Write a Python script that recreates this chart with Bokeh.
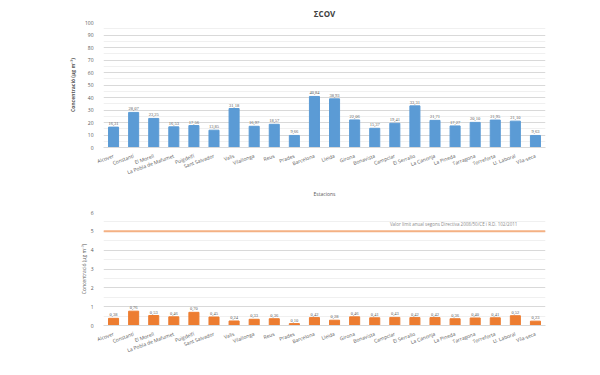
from bokeh.plotting import figure
from bokeh.models import ColumnDataSource, LabelSet, Span, Label, FixedTicker
from bokeh.layouts import column
from bokeh.embed import file_html
from bokeh.resources import INLINE

stations = ["Alcover", "Constantí", "El Morell", "La Pobla de Mafumet", "Puigdelfí",
            "Sant Salvador", "Valls", "Vilallonga", "Reus", "Prades", "Barcelona",
            "Lleida", "Girona", "Bonavista", "Campclar", "El Serrallo", "La Canonja",
            "La Pineda", "Tarragona", "Torreforta", "U. Laboral", "Vila-seca"]
cov_values = [16.31, 28.07, 23.25, 16.53, 17.56, 13.85, 31.18, 16.97, 18.57, 9.66, 40.84,
              38.93, 22.06, 15.37, 19.41, 33.31, 21.71, 17.27, 20.10, 21.95, 21.10, 9.63]
benz_values = [0.38, 0.76, 0.53, 0.46, 0.70, 0.45, 0.24, 0.33, 0.36, 0.10, 0.42,
               0.28, 0.46, 0.41, 0.43, 0.42, 0.42, 0.36, 0.40, 0.41, 0.52, 0.23]
limit_value = 5
limit_text = "Valor límit anual segons Directiva 2008/50/CE i R.D. 102/2011"
top_y_ticks = list(range(0, 101, 10))
bot_y_ticks = list(range(0, 7))

FONT = "Open Sans"
GREY = "#595959"
GRID = "#D9D9D9"


def fmt(v):
    return ("%.2f" % v).replace(".", ",")


def style(p):
    p.outline_line_color = None
    p.xgrid.grid_line_color = None
    p.ygrid.grid_line_color = GRID
    p.ygrid.grid_line_width = 1
    p.ygrid.minor_grid_line_color = "#F0F0F0"
    p.yaxis.axis_line_color = None
    p.yaxis.major_tick_line_color = None
    p.yaxis.minor_tick_line_color = None
    p.xaxis.axis_line_color = GRID
    p.xaxis.major_tick_line_color = None
    p.xaxis.minor_tick_line_color = None
    for ax in (p.xaxis[0], p.yaxis[0]):
        ax.major_label_text_font = FONT
        ax.major_label_text_font_size = "5px"
        ax.major_label_text_color = GREY
        ax.axis_label_text_font = FONT
        ax.axis_label_text_font_size = "5px"
        ax.axis_label_text_color = GREY
        ax.axis_label_text_font_style = "normal"
    p.xaxis.major_label_orientation = 0.35
    p.xaxis.major_label_standoff = 2
    p.yaxis.major_label_standoff = 4


# ---- Top chart: ΣCOV ----
src1 = ColumnDataSource(dict(x=stations, y=cov_values, lab=[fmt(v) for v in cov_values]))
p1 = figure(x_range=stations, y_range=(0, 100), width=584, height=200,
            output_backend="svg", toolbar_location=None,
            min_border_left=103, min_border_right=34, min_border_top=22, min_border_bottom=50)
p1.title.text = "ΣCOV"
p1.title.align = "center"
p1.title.text_font = FONT
p1.title.text_font_size = "8px"
p1.title.text_color = "#404040"
p1.title.standoff = 8
p1.vbar(x="x", top="y", source=src1, width=0.5, color="#5B9BD5")
p1.add_layout(LabelSet(x="x", y="y", text="lab", source=src1, text_align="center",
                       y_offset=2, text_font_size="4.5px", text_color=GREY, text_font=FONT))
style(p1)
p1.yaxis.ticker = FixedTicker(ticks=top_y_ticks, minor_ticks=[t + 5 for t in top_y_ticks[:-1]])
p1.yaxis.axis_label = "Concentració (µg m⁻³)"
p1.yaxis.axis_label_standoff = 6
p1.yaxis.axis_label_text_font_style = "bold"
p1.xaxis.axis_label = "Estacions"
p1.xaxis.axis_label_standoff = 10

# ---- Bottom chart: benzene ----
src2 = ColumnDataSource(dict(x=stations, y=benz_values, lab=[fmt(v) for v in benz_values]))
p2 = figure(x_range=stations, y_range=(0, 6), width=584, height=159,
            output_backend="svg", toolbar_location=None,
            min_border_left=100, min_border_right=39, min_border_top=12, min_border_bottom=23)
p2.vbar(x="x", top="y", source=src2, width=0.5, color="#ED7D31")
p2.add_layout(LabelSet(x="x", y="y", text="lab", source=src2, text_align="center",
                       y_offset=2, text_font_size="4.5px", text_color=GREY, text_font=FONT))
p2.add_layout(Span(location=limit_value, dimension="width", line_color="#F4B183", line_width=2))
p2.add_layout(Label(x=20.6, y=limit_value + 0.25, text=limit_text, text_align="right",
                    text_font_size="4.5px", text_color="#8C8C8C", text_font=FONT))
style(p2)
p2.yaxis.ticker = FixedTicker(ticks=bot_y_ticks, minor_ticks=[t + 0.5 for t in bot_y_ticks[:-1]])
p2.yaxis.axis_label = "Concentració (µg m⁻³)"
p2.yaxis.axis_label_standoff = 1

layout = column(p1, p2, spacing=0)
open("out.html", "w").write(file_html(layout, INLINE))
